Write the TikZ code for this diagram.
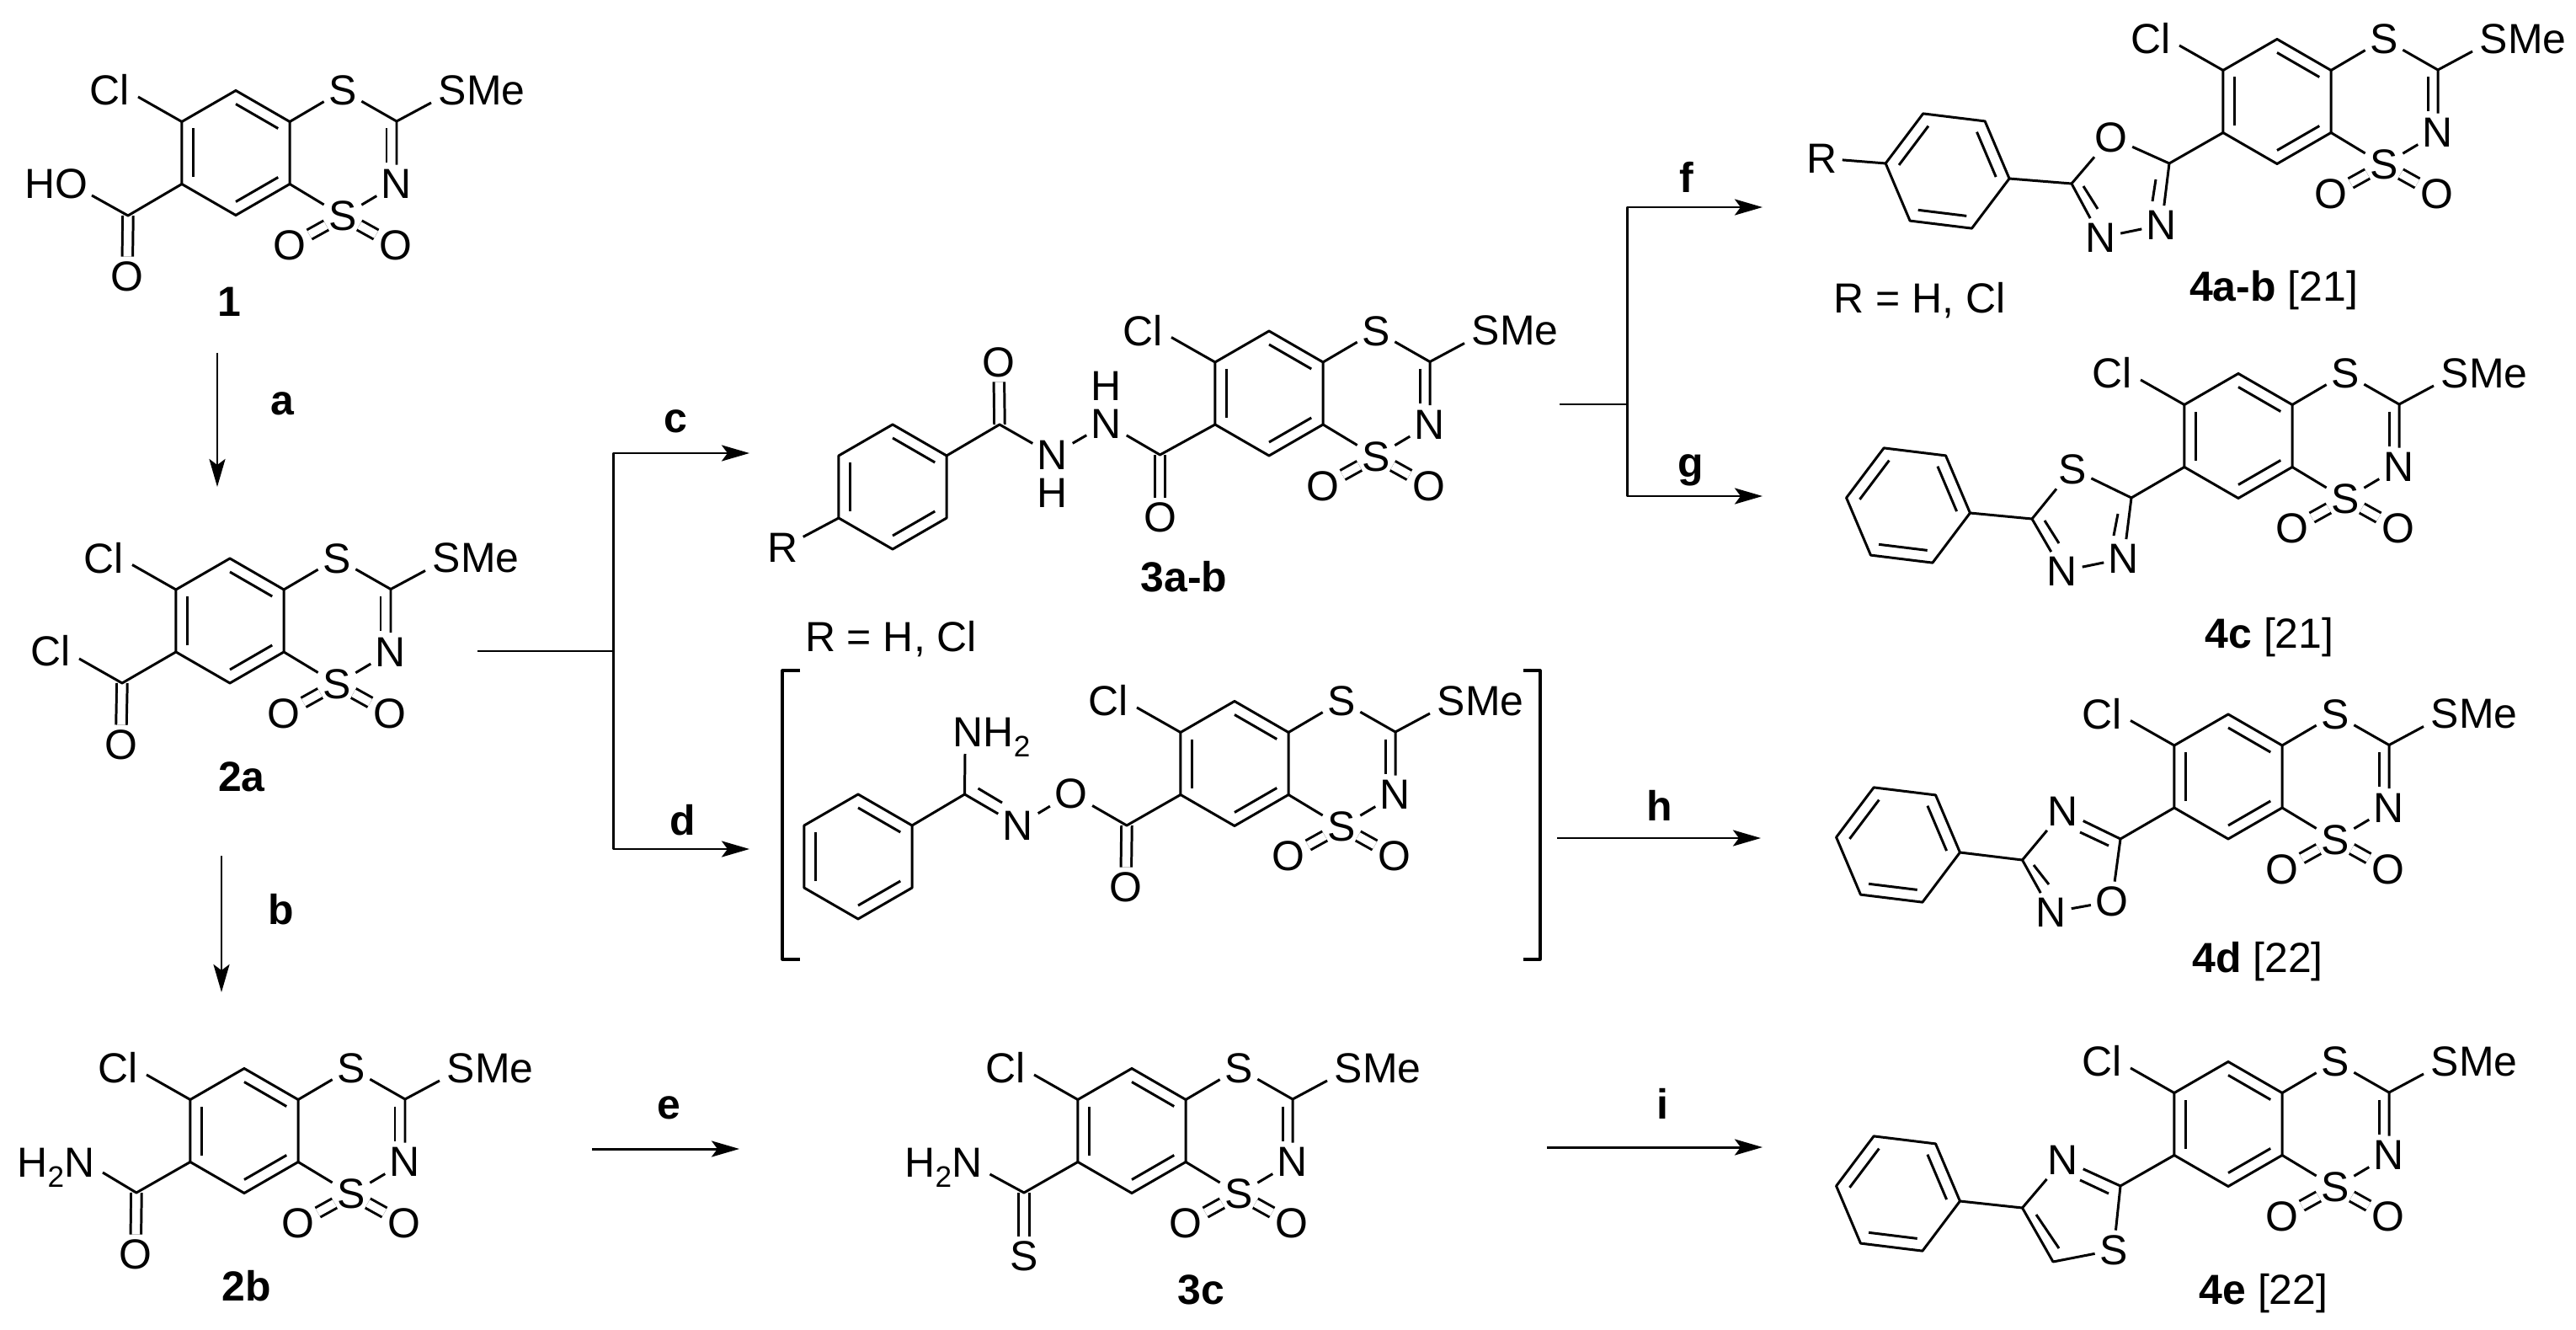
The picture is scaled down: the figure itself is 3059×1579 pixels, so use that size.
\documentclass[tikz,border=0pt]{standalone}
\usepackage{fontspec}
\setmainfont{Liberation Sans}
\usetikzlibrary{arrows.meta}
\newcommand{\subtwo}{\raisebox{-0.12cm}{\fontsize{10}{12}\selectfont 2}}
\newcommand{\benzring}[1]{%
	\foreach \i in {0,...,5} {\coordinate (v\i) at (#1+60*\i:74);}
	\draw[bond] (v0)--(v1)--(v2)--(v3)--(v4)--(v5)--cycle;
	\foreach \i/\j in {5/6,3/4,1/2} {\draw[bond] (#1+60*\i:58)--(#1+60*\j:58);}
}
\tikzset{
	bond/.style={line width=0.85pt},
	dbond/.style={line width=0.85pt,double,double distance=0.095cm},
	atom/.style={inner sep=0.05cm},
	cmpd/.style={anchor=base,inner sep=0pt},
	rarrow/.style={line width=0.85pt,-{Stealth[length=0.33cm,width=0.19cm,inset=0.07cm]}},
	pics/phenyl/.style={code={\benzring{#1}}},
	pics/core/.style={code={
		\benzring{-30}
		\coordinate (csme) at (191,-37.5);
		\coordinate (clend) at (-116,-66.5);
		\coordinate (smeend) at (232,-59.5);
		\node[atom] (s1) at (127,-74) {S};
		\node[atom] (n) at (191,37) {N};
		\node[atom] (s2) at (127,75) {S};
		\node[atom] (o1) at (64,110) {O};
		\node[atom] (o2) at (190,110) {O};
		\node[atom,anchor=east] (cl) at (-121,-74.5) {Cl};
		\node[atom,anchor=west] (sme) at (235,-74.5) {SMe};
		\draw[bond] (v4)--(clend) (v0)--(s1)--(csme)--(smeend) (csme)--(n)--(s2)--(v1);
		\draw[bond] (179,-29)--(179,12);
		\draw[dbond,shorten <=-0.03cm,shorten >=-0.02cm] (s2)--(o1);
		\draw[dbond,shorten <=-0.03cm,shorten >=-0.02cm] (s2)--(o2);
	}},
}
\begin{document}
\begin{tikzpicture}[x=0.01cm,y=-0.01cm,line join=round,font=\fontsize{14.2}{17}\selectfont]
	\useasboundingbox (0,0) rectangle (3059,1579);
	% left column
	\pic (m1) at (280,181.5) {core};
	\coordinate (c1) at (152,256);
	\coordinate (hoend) at (109,232);
	\node[atom] (o1) at (151,328) {O};
	\node[atom,anchor=east] (ho) at (110,218) {HO};
	\draw[dbond] (c1)--(o1);
	\draw[bond] (m1v3)--(c1)--(hoend);
	\node[cmpd] (t1) at (272,376) {\textbf{1}};

	\pic (m2a) at (273,737) {core};
	\coordinate (c2a) at (145,811);
	\coordinate (clend2a) at (94,782);
	\node[atom] (o2a) at (143.5,884) {O};
	\node[atom,anchor=east] (cl2a) at (89,773) {Cl};
	\draw[dbond] (c2a)--(o2a);
	\draw[bond] (m2av3)--(c2a)--(clend2a);
	\node[cmpd] (t2a) at (287,939) {\textbf{2a}};

	\pic (m2b) at (290,1342.5) {core};
	\coordinate (c2b) at (162,1416);
	\coordinate (nend2b) at (122,1392);
	\node[atom] (o2b) at (161,1489) {O};
	\node[atom,anchor=base east] (n2b) at (118,1397) {H\subtwo N};
	\draw[dbond] (c2b)--(o2b);
	\draw[bond] (m2bv3)--(c2b)--(nend2b);
	\node[cmpd] (t2b) at (293,1544) {\textbf{2b}};

	% hydrazide
	\pic (m3a) at (1507,467) {core};
	\pic (ph3a) at (1060,578) {phenyl=-30};
	\coordinate (c3a) at (1377.5,540);
	\coordinate (d3a) at (1187,504);
	\node[atom] (o3a) at (1377.5,614) {O};
	\node[atom] (p3a) at (1186,430) {O};
	\node[atom] (n3a) at (1314,503) {N};
	\node[atom] (h3a) at (1314,458) {H};
	\node[atom] (k3a) at (1250,540) {N};
	\node[atom] (g3a) at (1250,585) {H};
	\node[atom] (r3a) at (930,650) {R};
	\draw[dbond] (c3a)--(o3a);
	\draw[dbond] (d3a)--(p3a);
	\draw[bond] (m3av3)--(c3a)--(n3a)--(k3a)--(d3a)--(ph3av0);
	\draw[bond] (ph3av3)--(r3a);
	\node[cmpd] (t3a) at (1406,702) {\textbf{3a-b}};
	\node[cmpd] (rr3a) at (1058,773) {R = H, Cl};

	% bracket
	\pic (m3d) at (1466,906.5) {core};
	\pic (ph3d) at (1019,1017) {phenyl=-30};
	\coordinate (c3d) at (1338,980);
	\coordinate (d3d) at (1145.5,943);
	\coordinate (nend3d) at (1146,895);
	\node[atom] (o3d) at (1337,1053) {O};
	\node[atom] (e3d) at (1272,942) {O};
	\node[atom] (n3d) at (1209,980) {N};
	\node[atom,anchor=base west] (nh3d) at (1126,886) {NH\subtwo};
	\draw[dbond] (c3d)--(o3d);
	\draw[bond] (m3dv3)--(c3d)--(e3d)--(n3d)--(d3d)--(ph3dv0);
	\draw[bond] (d3d)--(nend3d);
	\draw[bond] (1161.5,936)--(1190,953);
	\draw[line width=0.9pt] (950,796)--(929,796)--(929,1139)--(950,1139);
	\draw[line width=0.9pt] (1809,796)--(1829,796)--(1829,1139)--(1809,1139);

	% thioamide
	\pic (m3c) at (1344,1342.5) {core};
	\coordinate (c3c) at (1216,1416);
	\coordinate (nend3c) at (1175.5,1394);
	\node[atom] (s3c) at (1216,1491) {S};
	\node[atom,anchor=base east] (n3c) at (1172,1397) {H\subtwo N};
	\draw[dbond] (c3c)--(s3c);
	\draw[bond] (m3cv3)--(c3c)--(nend3c);
	\node[cmpd] (t3c) at (1426,1548) {\textbf{3c}};

	% right column
	\pic (m4a) at (2704,120.5) {core};
	\pic (ph4a) at (2312.6,203) {phenyl=7};
	\coordinate (c4a) at (2576,194);
	\coordinate (d4a) at (2460,218);
	\node[atom] (o4a) at (2507,163) {O};
	\node[atom] (n4a) at (2494.5,282) {N};
	\node[atom] (k4a) at (2567,267) {N};
	\node[atom] (r4a) at (2164,188) {R};
	\draw[bond] (m4av3)--(c4a)--(k4a)--(n4a)--(d4a)--(o4a)--(c4a);
	\draw[bond] (d4a)--(ph4av0) (ph4av3)--(r4a);
	\draw[bond] (2474,221)--(2491,248) (2560,213)--(2556,239);
	\node[cmpd] (rr4a) at (2279.5,372) {R = H, Cl};
	\node[cmpd] (t4a) at (2700,357) {\textbf{4a-b} [21]};

	\pic (m4c) at (2658,517.5) {core};
	\pic (ph4c) at (2266,600) {phenyl=7};
	\coordinate (c4c) at (2531,591);
	\coordinate (d4c) at (2413,616);
	\node[atom] (s4c) at (2461,557) {S};
	\node[atom] (n4c) at (2449,678) {N};
	\node[atom] (k4c) at (2522,663) {N};
	\draw[bond] (m4cv3)--(c4c)--(k4c)--(n4c)--(d4c)--(s4c)--(c4c);
	\draw[bond] (d4c)--(ph4cv0);
	\draw[bond] (2428,618)--(2445,645) (2515,610)--(2510,636);
	\node[cmpd] (t4c) at (2695,769) {\textbf{4c} [21]};

	\pic (m4d) at (2646,922) {core};
	\pic (ph4d) at (2254,1003) {phenyl=7};
	\coordinate (c4d) at (2518,996);
	\coordinate (d4d) at (2401.5,1021);
	\node[atom] (n4d) at (2450,963) {N};
	\node[atom] (k4d) at (2436,1083) {N};
	\node[atom] (o4d) at (2508,1070) {O};
	\draw[bond] (m4dv3)--(c4d)--(n4d)--(d4d)--(k4d)--(o4d)--(c4d);
	\draw[bond] (d4d)--(ph4dv0);
	\draw[bond] (2470,988)--(2504,1004) (2415,1027)--(2433,1050);
	\node[cmpd] (t4d) at (2681,1154) {\textbf{4d} [22]};

	\pic (m4e) at (2646,1334.5) {core};
	\pic (ph4e) at (2254,1417) {phenyl=7};
	\coordinate (c4e) at (2518,1408);
	\coordinate (d4e) at (2401.5,1434);
	\coordinate (f4e) at (2438,1498);
	\node[atom] (n4e) at (2450,1377) {N};
	\node[atom] (s4e) at (2510,1484) {S};
	\draw[bond] (m4ev3)--(c4e)--(n4e)--(d4e)--(f4e)--(s4e)--(c4e);
	\draw[bond] (d4e)--(ph4ev0);
	\draw[bond] (2470,1401)--(2504,1417) (2418,1442)--(2445,1482);
	\node[cmpd] (t4e) at (2688,1548) {\textbf{4e} [22]};

	% arrows
	\coordinate (a0) at (258,419);
	\coordinate (a1) at (258,578);
	\coordinate (b0) at (263,1016);
	\coordinate (b1) at (263,1178);
	\coordinate (e0) at (703,1364);
	\coordinate (e1) at (878,1364);
	\coordinate (j0) at (567,773);
	\coordinate (j1) at (728,773);
	\coordinate (j2) at (728,538);
	\coordinate (j3) at (728,1008);
	\coordinate (c0) at (890,538);
	\coordinate (d0) at (890,1008);
	\coordinate (k0) at (1852,480);
	\coordinate (k1) at (1932,480);
	\coordinate (k2) at (1932,246);
	\coordinate (k3) at (1932,589);
	\coordinate (f0) at (2093,246);
	\coordinate (g0) at (2093,589);
	\coordinate (h0) at (1849,995);
	\coordinate (h1) at (2091,995);
	\coordinate (i0) at (1837,1362);
	\coordinate (i1) at (2093,1362);
	\draw[rarrow] (a0)--(a1);
	\draw[rarrow] (b0)--(b1);
	\draw[rarrow] (e0)--(e1);
	\draw[bond] (j0)--(j1);
	\draw[rarrow] (j1)--(j2)--(c0);
	\draw[rarrow] (j1)--(j3)--(d0);
	\draw[bond] (k0)--(k1);
	\draw[rarrow] (k1)--(k2)--(f0);
	\draw[rarrow] (k1)--(k3)--(g0);
	\draw[rarrow] (h0)--(h1);
	\draw[rarrow] (i0)--(i1);
	\node[cmpd] (la) at (336,492) {\textbf{a}};
	\node[cmpd] (lb) at (334,1097) {\textbf{b}};
	\node[cmpd] (lc) at (802.5,514) {\textbf{c}};
	\node[cmpd] (ld) at (811,991.5) {\textbf{d}};
	\node[cmpd] (le) at (794,1328) {\textbf{e}};
	\node[cmpd] (lf) at (2003,229) {\textbf{f}};
	\node[cmpd] (lg) at (2008,567) {\textbf{g}};
	\node[cmpd] (lh) at (1971,974) {\textbf{h}};
	\node[cmpd] (li) at (1974,1328) {\textbf{i}};
\end{tikzpicture}
\end{document}
